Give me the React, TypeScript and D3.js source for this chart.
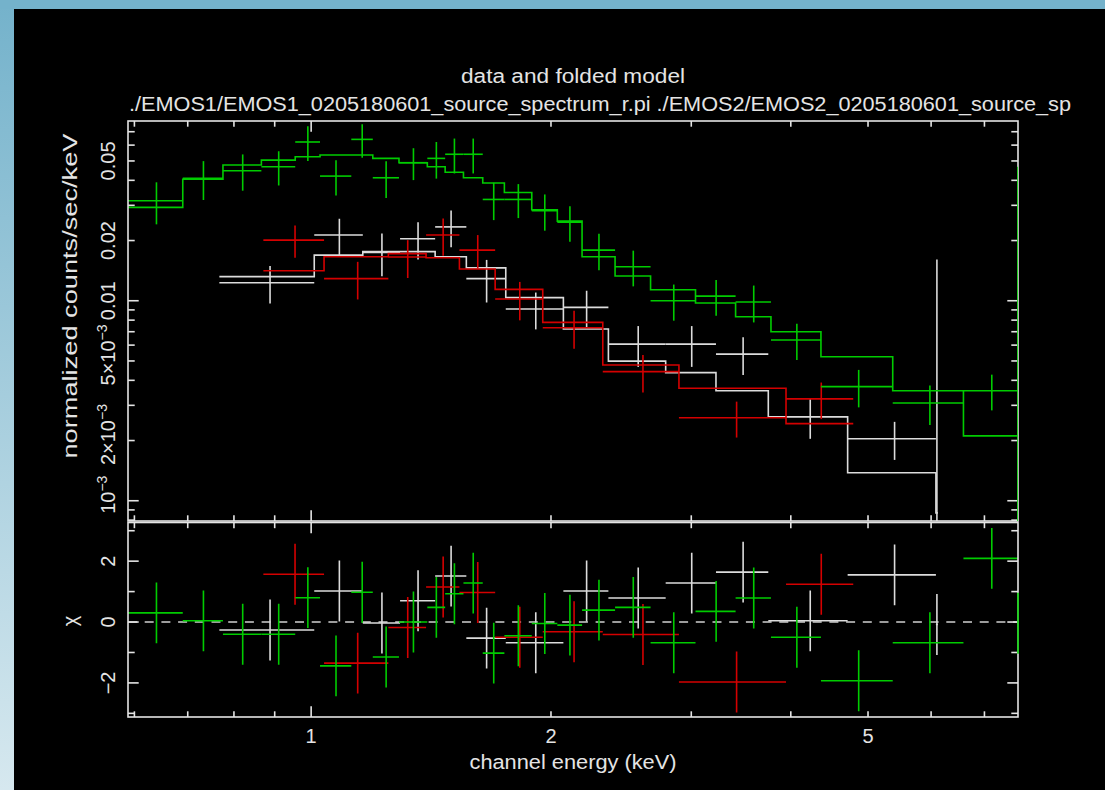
import React from "react";
import * as d3 from "d3";

const WIDTH = 1105;
const HEIGHT = 790;

// Axis domains
const energyDomain = [0.589, 7.713];
const fluxDomain = [7.92e-4, 0.0792];
const chiDomain = [-3.12, 3.27];

// EPIC-pn (green): bin edges in keV, counts/sec/keV, 1-sigma errors, folded model, residuals
const greenEdges = [0.589, 0.69, 0.775, 0.866, 0.955, 1.026, 1.123, 1.195, 1.289, 1.399, 1.473, 1.553, 1.642, 1.748, 1.892, 2.037, 2.188, 2.407, 2.667, 3.037, 3.41, 3.777, 4.364, 5.37, 6.588, 7.713, 7.713];
const greenFlux = [0.0316, 0.0409, 0.0447, 0.0468, 0.0622, 0.042, 0.0641, 0.0412, 0.049, 0.0515, 0.054, 0.054, 0.0321, 0.0321, 0.0282, 0.0247, 0.0179, 0.0148, 0.01, 0.01055, 0.00985, 0.00636, 0.00372, 0.00308, 0.00355, 0.002];
const greenErr = [0.0075, 0.009, 0.0092, 0.0091, 0.0123, 0.0084, 0.0122, 0.0086, 0.0089, 0.0107, 0.0107, 0.0107, 0.0068, 0.0062, 0.0058, 0.005, 0.0037, 0.003, 0.00205, 0.00214, 0.00206, 0.00131, 0.00079, 0.00069, 0.00072, 0.0448];
const greenModel = [0.0293, 0.0405, 0.0477, 0.0505, 0.0525, 0.0535, 0.0535, 0.0515, 0.049, 0.0468, 0.0439, 0.0412, 0.0388, 0.0348, 0.0285, 0.025, 0.0166, 0.0133, 0.01135, 0.00974, 0.00832, 0.007, 0.00525, 0.00355, 0.00211, 0.0038];
const greenChi = [0.3, 0.04, -0.4, -0.4, 0.8, -1.44, 0.98, -1.15, 0.0, 0.48, 0.93, 1.28, -1.02, -0.45, -0.05, -0.1, 0.39, 0.48, -0.68, 0.35, 0.79, -0.5, -1.93, -0.68, 2.09, -0.04];

// EMOS1 (white)
const whiteEdges = [0.767, 1.009, 1.161, 1.293, 1.431, 1.566, 1.755, 2.073, 2.361, 2.786, 3.222, 3.748, 4.714, 6.084, 6.119];
const whiteFlux = [0.0123, 0.0213, 0.01746, 0.0204, 0.0234, 0.0129, 0.00909, 0.00927, 0.00607, 0.00607, 0.00541, 0.00263, 0.00204, 0.0001];
const whiteErr = [0.0026, 0.0044, 0.0042, 0.0043, 0.0049, 0.0031, 0.0019, 0.00195, 0.0014, 0.0014, 0.00116, 0.00059, 0.00044, 0.016];
const whiteModel = [0.0132, 0.0169, 0.0176, 0.0176, 0.0166, 0.0146, 0.01037, 0.00722, 0.00499, 0.00437, 0.00355, 0.00263, 0.00138, 0.00087];
const whiteChi = [-0.26, 1.02, -0.03, 0.7, 1.51, -0.53, -0.68, 1.02, 0.79, 1.28, 1.64, 0.04, 1.55, -0.08];

// EMOS2 (red)
const redEdges = [0.871, 1.038, 1.25, 1.394, 1.535, 1.702, 1.953, 2.323, 2.895, 3.945, 4.791];
const redFlux = [0.0201, 0.0129, 0.01654, 0.0213, 0.0179, 0.0102, 0.00733, 0.00442, 0.0026, 0.00323];
const redErr = [0.0037, 0.00275, 0.00355, 0.0045, 0.0034, 0.00222, 0.00158, 0.00094, 0.00053, 0.00067];
const redModel = [0.01413, 0.0166, 0.0172, 0.0164, 0.0144, 0.0114, 0.0078, 0.00477, 0.00365, 0.00243];
const redChi = [1.57, -1.35, -0.18, 1.15, 0.97, -0.5, -0.32, -0.41, -1.97, 1.24];

// Ticks and labels
const energyTicks = [0.6, 0.7, 0.8, 0.9, 1, 2, 3, 4, 5, 6, 7];
const energyMajor = [1];
const energyLabels = [1, 2, 5];
const fluxTicks = [8e-4, 9e-4, 1e-3, 2e-3, 3e-3, 4e-3, 5e-3, 6e-3, 7e-3, 8e-3, 9e-3, 0.01, 0.02, 0.03, 0.04, 0.05, 0.06, 0.07];
const fluxMajor = [1e-3, 0.01];
const fluxLabels = [
  { v: 0.05, base: "0.05", exp: "" },
  { v: 0.02, base: "0.02", exp: "" },
  { v: 0.01, base: "0.01", exp: "" },
  { v: 5e-3, base: "5×10", exp: "−3" },
  { v: 2e-3, base: "2×10", exp: "−3" },
  { v: 1e-3, base: "10", exp: "−3" },
];
const chiTicks = [-3, -2, -1, 0, 1, 2, 3];
const chiMajor = [-2, 0, 2];
const chiLabels = [
  { v: 2, text: "2" },
  { v: 0, text: "0" },
  { v: -2, text: "−2" },
];

const titleText = "data and folded model";
const fileText = "./EMOS1/EMOS1_0205180601_source_spectrum_r.pi ./EMOS2/EMOS2_0205180601_source_sp";
const xTitle = "channel energy (keV)";
const yTitle = "normalized counts/sec/keV";
const chiTitle = "χ";

const COLORS = { white: "#dcdcdc", red: "#d40000", green: "#00cc00", frame: "#e4e4e4", text: "#e4e4e4" };
const FONT = "'Liberation Sans', Arial, sans-serif";

const L = 128, R = 1018, T = 121, MID = 521, LT = 522.5, B = 717;

const x = d3.scaleLog().domain(energyDomain).range([L, R]);
const yF = d3.scaleLog().domain(fluxDomain).range([MID, T]);
const yC = d3.scaleLinear().domain(chiDomain).range([B, LT]);

type Spec = { color: string; edges: number[]; flux: number[]; err: number[]; model: number[]; chi: number[] };

const datasets: Spec[] = [
  { color: COLORS.white, edges: whiteEdges, flux: whiteFlux, err: whiteErr, model: whiteModel, chi: whiteChi },
  { color: COLORS.red, edges: redEdges, flux: redFlux, err: redErr, model: redModel, chi: redChi },
  { color: COLORS.green, edges: greenEdges, flux: greenFlux, err: greenErr, model: greenModel, chi: greenChi },
];

const SW = 1.6;

function modelPath(s: Spec) {
  const pts: [number, number][] = s.model.map((m, i) => [s.edges[i], m]);
  pts.push([s.edges[s.edges.length - 1], s.model[s.model.length - 1]]);
  const line = d3
    .line<[number, number]>()
    .x((d) => x(d[0]))
    .y((d) => yF(d[1]))
    .curve(d3.curveStepAfter);
  return line(pts) || "";
}

function Upper({ s }: { s: Spec }) {
  return (
    <g stroke={s.color} strokeWidth={SW} fill="none">
      <path d={modelPath(s)} />
      {s.flux.map((f, i) => {
        const lo = s.edges[i];
        const hi = s.edges[i + 1];
        const c = (lo + hi) / 2;
        const bottom = Math.max(f - s.err[i], 1e-6);
        const top = f + s.err[i];
        const yv = yF(Math.max(f, 1e-6));
        return (
          <g key={i}>
            <line x1={x(lo)} x2={x(hi)} y1={yv} y2={yv} />
            <line x1={x(c)} x2={x(c)} y1={yF(bottom)} y2={yF(top)} />
          </g>
        );
      })}
    </g>
  );
}

function Lower({ s }: { s: Spec }) {
  return (
    <g stroke={s.color} strokeWidth={SW} fill="none">
      {s.chi.map((v, i) => {
        const lo = s.edges[i];
        const hi = s.edges[i + 1];
        const c = (lo + hi) / 2;
        return (
          <g key={i}>
            <line x1={x(lo)} x2={x(hi)} y1={yC(v)} y2={yC(v)} />
            <line x1={x(c)} x2={x(c)} y1={yC(v - 1)} y2={yC(v + 1)} />
          </g>
        );
      })}
    </g>
  );
}

function Frame({ top, bottom, yScale, yTicks, yMajor, logY }: any) {
  const xt = energyTicks.map((e) => {
    const len = energyMajor.includes(e) ? 10.7 : 5.7;
    const px = x(e);
    return (
      <g key={"x" + e}>
        <line x1={px} x2={px} y1={top} y2={top + len} />
        <line x1={px} x2={px} y1={bottom} y2={bottom - len} />
      </g>
    );
  });
  const yt = yTicks.map((v: number) => {
    const len = yMajor.includes(v) ? 10.7 : 6.7;
    const py = yScale(v);
    return (
      <g key={"y" + v}>
        <line x1={L} x2={L + len} y1={py} y2={py} />
        <line x1={R} x2={R - len} y1={py} y2={py} />
      </g>
    );
  });
  return (
    <g stroke={COLORS.frame} strokeWidth={SW} fill="none">
      <rect x={L} y={top} width={R - L} height={bottom - top} />
      {xt}
      {yt}
    </g>
  );
}

export default function App() {
  return (
    <svg
      width={WIDTH}
      height={HEIGHT}
      viewBox={`0 0 ${WIDTH} ${HEIGHT}`}
      style={{ position: "absolute", left: 0, top: 0, display: "block" }}
    >
      <defs>
        <linearGradient id="edgeGrad" x1="0" y1="0" x2="0" y2="1">
          <stop offset="0" stopColor="#74b2cb" />
          <stop offset="1" stopColor="#d6e8ef" />
        </linearGradient>
        <clipPath id="clipUpper">
          <rect x={L} y={T} width={R - L} height={MID - T} />
        </clipPath>
        <clipPath id="clipLower">
          <rect x={L} y={LT} width={R - L} height={B - LT} />
        </clipPath>
      </defs>

      <rect x={0} y={0} width={WIDTH} height={HEIGHT} fill="url(#edgeGrad)" />
      <rect x={0} y={0} width={WIDTH} height={9} fill="#74b2cb" />
      <rect x={14} y={9} width={WIDTH - 14} height={HEIGHT - 9} fill="#000" />

      {/* titles */}
      <g fill={COLORS.text} fontFamily={FONT} fontSize={20}>
        <text x={573} y={83} textAnchor="middle" textLength={224} lengthAdjust="spacingAndGlyphs">
          {titleText}
        </text>
        <text x={129} y={111} textLength={942} lengthAdjust="spacingAndGlyphs">
          {fileText}
        </text>
        <text x={573} y={769} textAnchor="middle" textLength={207} lengthAdjust="spacingAndGlyphs">
          {xTitle}
        </text>
        <text
          transform={`translate(77, 296) rotate(-90)`}
          textAnchor="middle"
          textLength={325}
          lengthAdjust="spacingAndGlyphs"
        >
          {yTitle}
        </text>
        <text transform={`translate(77, 621) rotate(-90)`} textAnchor="middle">
          {chiTitle}
        </text>

        {energyLabels.map((e) => (
          <text key={e} x={x(e)} y={743} textAnchor="middle">
            {e}
          </text>
        ))}

        {fluxLabels.map((d) => (
          <text
            key={d.base + d.exp}
            transform={`translate(115, ${yF(d.v) - (d.exp ? 6 : 0)}) rotate(-90)`}
            textAnchor="middle"
          >
            {d.base}
            {d.exp ? (
              <tspan dy={-8} fontSize={14}>
                {d.exp}
              </tspan>
            ) : null}
          </text>
        ))}

        {chiLabels.map((d) => (
          <text key={d.text} transform={`translate(115, ${yC(d.v)}) rotate(-90)`} textAnchor="middle">
            {d.text}
          </text>
        ))}
      </g>

      {/* upper panel: data and folded model */}
      <g clipPath="url(#clipUpper)">
        {datasets.map((s, i) => (
          <Upper key={i} s={s} />
        ))}
      </g>

      {/* lower panel: residuals in sigma */}
      <g clipPath="url(#clipLower)">
        <line
          x1={L}
          x2={R}
          y1={yC(0)}
          y2={yC(0)}
          stroke="#d0d0d0"
          strokeWidth={SW}
          strokeDasharray="9 7.7"
        />
        {datasets.map((s, i) => (
          <Lower key={i} s={s} />
        ))}
      </g>

      <Frame top={T} bottom={MID} yScale={yF} yTicks={fluxTicks} yMajor={fluxMajor} />
      <Frame top={LT} bottom={B} yScale={yC} yTicks={chiTicks} yMajor={chiMajor} />

      {/* the last pn bin sits on the right border */}
      <g clipPath="url(#clipUpper)">
        <line
          x1={R}
          x2={R}
          y1={yF(greenFlux[greenFlux.length - 1] + greenErr[greenErr.length - 1])}
          y2={MID}
          stroke={COLORS.green}
          strokeWidth={SW}
        />
      </g>
      <line
        x1={R}
        x2={R}
        y1={yC(greenChi[greenChi.length - 1] + 1)}
        y2={yC(greenChi[greenChi.length - 1] - 1)}
        stroke={COLORS.green}
        strokeWidth={SW}
      />
    </svg>
  );
}
